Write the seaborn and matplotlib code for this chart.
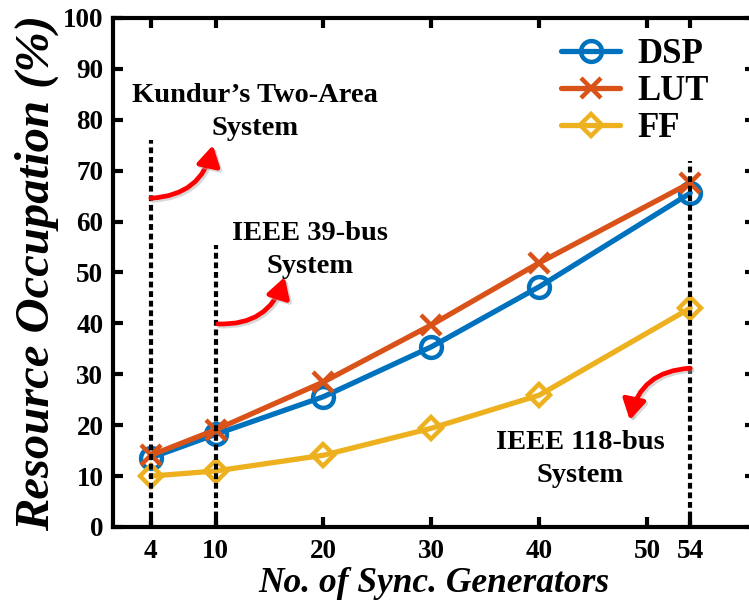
import matplotlib
matplotlib.use("Agg")
import matplotlib.pyplot as plt
import matplotlib.patheffects as pe
import seaborn as sns
import pandas as pd

# Number of synchronous generators in each test system
generators = [4, 10, 20, 30, 40, 54]

# FPGA resource occupation (%)
dsp = [13.6, 18.2, 25.6, 35.4, 47.2, 65.6]
lut = [14.1, 19.1, 28.5, 39.7, 51.9, 67.6]
ff = [10.0, 11.0, 14.1, 19.4, 25.9, 43.0]

x_ticks = [4, 10, 20, 30, 40, 50, 54]
y_ticks = [0, 10, 20, 30, 40, 50, 60, 70, 80, 90, 100]

series_names = ["DSP", "LUT", "FF"]
series_colors = ["#0072BD", "#D95319", "#EDB120"]
series_markers = ["o", "x", "D"]
series_sizes = [15, 14, 11]

df = pd.DataFrame({
    "generators": generators * 3,
    "occupation": dsp + lut + ff,
    "resource": ["DSP"] * 6 + ["LUT"] * 6 + ["FF"] * 6,
})

sns.set_style("ticks")
plt.rcParams["font.family"] = ["Liberation Serif", "DejaVu Serif"]
plt.rcParams["font.weight"] = "bold"
for key in ["text.color", "axes.labelcolor", "xtick.color", "ytick.color",
            "axes.edgecolor"]:
    plt.rcParams[key] = "black"

fig = plt.figure(figsize=(7.49, 6.02), dpi=100)
ax = fig.add_axes([0.151, 0.1246, 0.857, 0.8455])

for name, color, marker, ms in zip(series_names, series_colors, series_markers, series_sizes):
    sub = df[df["resource"] == name]
    sns.lineplot(data=sub, x="generators", y="occupation", ax=ax, color=color,
                 marker=marker, markersize=ms,
                 markerfacecolor="none", markeredgecolor=color,
                 markeredgewidth=3.2, linewidth=3.8, label=name, zorder=3)

# Dotted guides at the three test systems
ax.vlines([4, 10, 54], 0, [76, 55.5, 72], colors="black",
          linestyles=(0, (1.4, 0.9)), linewidth=3.0, zorder=5)

# System annotations
txt_kw = dict(ha="center", va="center", fontsize=20.5, fontweight="bold",
              linespacing=1.4, zorder=6, color="black")
ax.text(13.65, 81.5, "Kundur’s Two-Area\nSystem", **txt_kw)
ax.text(18.75, 54.4, "IEEE 39-bus\nSystem", **txt_kw)
ax.text(43.8, 13.4, "IEEE 118-bus\nSystem", **txt_kw)

arrow_kw = dict(arrowstyle="-|>,head_length=0.6,head_width=0.35", color="red",
                lw=3.4, mutation_scale=20, shrinkA=0, shrinkB=0)
shadow = [pe.SimpleLineShadow(offset=(1.5, -1.5), shadow_color="0.7", alpha=0.5),
          pe.Normal()]
for start, end in [((4, 64.6), (9.75, 75.0)),
                   ((10.2, 39.9), (16.4, 49.1)),
                   ((54, 31.2), (48.4, 21.0))]:
    ann = ax.annotate("", xy=end, xytext=start,
                      arrowprops=dict(connectionstyle="arc3,rad=0.38", **arrow_kw),
                      zorder=6)
    ann.arrow_patch.set_path_effects(shadow)

ax.set_xlim(0.5, 60)
ax.set_ylim(0, 100)
ax.set_xticks(x_ticks)
ax.set_yticks(y_ticks)
ax.set_xticklabels([str(t) for t in x_ticks], fontsize=19.5, fontweight="bold")
ax.set_yticklabels([str(t) for t in y_ticks], fontsize=19.5, fontweight="bold")
ax.tick_params(direction="in", length=7, width=3, top=True, right=True,
               colors="black", pad=9)
ax.tick_params(axis="y", pad=7)
for sp in ax.spines.values():
    sp.set_linewidth(3)
    sp.set_color("black")
    sp.set_visible(True)

ax.set_xlabel("No. of Sync. Generators", fontsize=25.5, fontweight="bold",
              fontstyle="italic", labelpad=2)
ax.set_ylabel("Resource Occupation (%)", fontsize=35, fontweight="bold",
              fontstyle="italic", labelpad=3)

leg = ax.legend(loc="upper left", bbox_to_anchor=(0.749, 0.937),
                bbox_transform=fig.transFigure, frameon=False,
                prop=dict(family="Liberation Serif", weight="bold", size=25),
                handlelength=1.7, handletextpad=0.5, labelspacing=0.12,
                borderpad=0, borderaxespad=0)

fig.savefig("out.png", dpi=100)
